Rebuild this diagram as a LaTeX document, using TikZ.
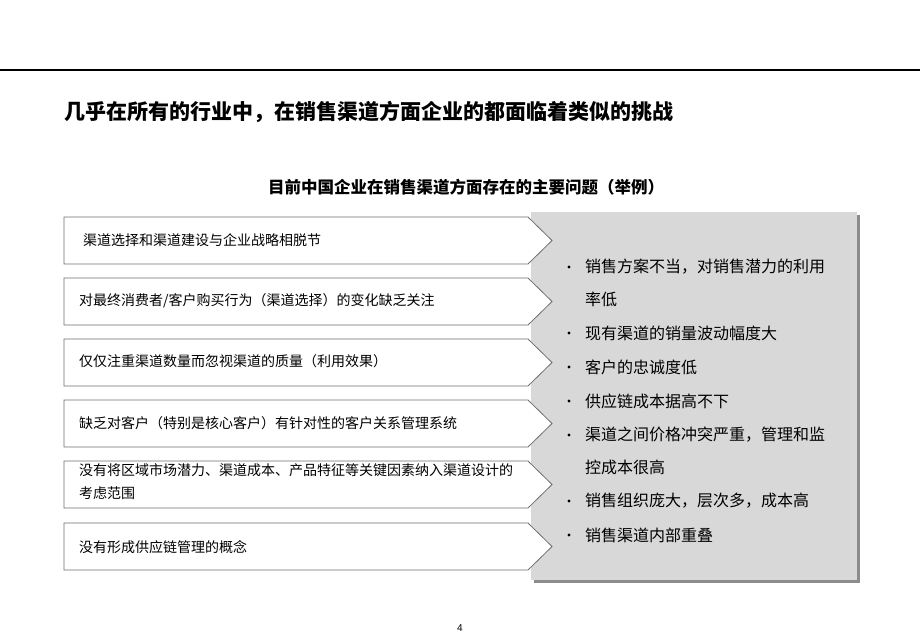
\documentclass[tikz,border=0pt]{standalone}
\usepackage{fontspec}
\setmainfont{Liberation Sans}
\newfontfamily\cjk{Noto Sans CJK SC}
\usepackage{tikz}
\definecolor{panelgray}{RGB}{216,216,216}
\definecolor{shadowgray}{RGB}{140,140,140}
\definecolor{edgegray}{RGB}{110,110,110}

\tikzset{
  boxline/.style={draw=edgegray,line width=0.8pt,fill=white},
  boxtext/.style={anchor=west,inner sep=0pt,align=left,font=\cjk\fontsize{14}{23}\selectfont},
  pointtext/.style={anchor=west,inner sep=0pt,font=\cjk\fontsize{16}{16}\selectfont},
  dot/.style={circle,fill=black,inner sep=0pt,minimum size=3.2pt}
}

\begin{document}
\begin{tikzpicture}[x=1pt,y=-1pt]
\useasboundingbox (0,0) rectangle (920,637);

% rule and headings
\draw[line width=2pt] (0,70) -- (920,70);
\node[anchor=west,inner sep=0pt,font=\cjk\bfseries\fontsize{21}{21}\selectfont] (title) at (64,112)
  {几乎在所有的行业中，在销售渠道方面企业的都面临着类似的挑战};
\node[inner sep=0pt,font=\cjk\bfseries\fontsize{16.5}{16.5}\selectfont] (subtitle) at (466,187)
  {目前中国企业在销售渠道方面存在的主要问题（举例）};

% grey panel with shadow
\fill[shadowgray] (534,215) rectangle (860,583);
\fill[panelgray] (531,212) rectangle (857,580);

% arrow boxes
\foreach \t/\b in {217/264,278/325,339/386,400/447,461/508,523/570}
  \draw[boxline] (64,\t) -- (528,\t) -- (552,{(\t+\b)/2}) -- (528,\b) -- (64,\b) -- cycle;

\begin{scope}[every node/.style={boxtext}]
    \node (strategy) at (83,240) {渠道选择和渠道建设与企业战略相脱节};
    \node (behavior) at (79,301) {对最终消费者/客户购买行为（渠道选择）的变化缺乏关注};
    \node (quantity) at (79,361) {仅仅注重渠道数量而忽视渠道的质量（利用效果）};
    \node (crm) at (79,423) {缺乏对客户（特别是核心客户）有针对性的客户关系管理系统};
    \node (design) at (79,482) {没有将区域市场潜力、渠道成本、产品特征等关键因素纳入渠道设计的\\考虑范围};
    \node (supply) at (79,547) {没有形成供应链管理的概念};
\end{scope}

% symptoms
\begin{scope}[every node/.style={pointtext}]
    \node (plan) at (585,267) {销售方案不当，对销售潜力的利用};
    \node (plan2) at (585,299) {率低};
    \node (volume) at (585,333) {现有渠道的销量波动幅度大};
    \node (loyalty) at (585,367) {客户的忠诚度低};
    \node (cost) at (585,401) {供应链成本据高不下};
    \node (conflict) at (585,435) {渠道之间价格冲突严重，管理和监};
    \node (conflict2) at (585,467) {控成本很高};
    \node (org) at (585,501) {销售组织庞大，层次多，成本高};
    \node (overlap) at (585,535) {销售渠道内部重叠};
\end{scope}
\foreach \y in {267,333,367,401,435,501,535}
  \node[dot] at (569,\y) {};

\node[font=\fontsize{10}{10}\selectfont] (page) at (460,628) {4};
\end{tikzpicture}
\end{document}
